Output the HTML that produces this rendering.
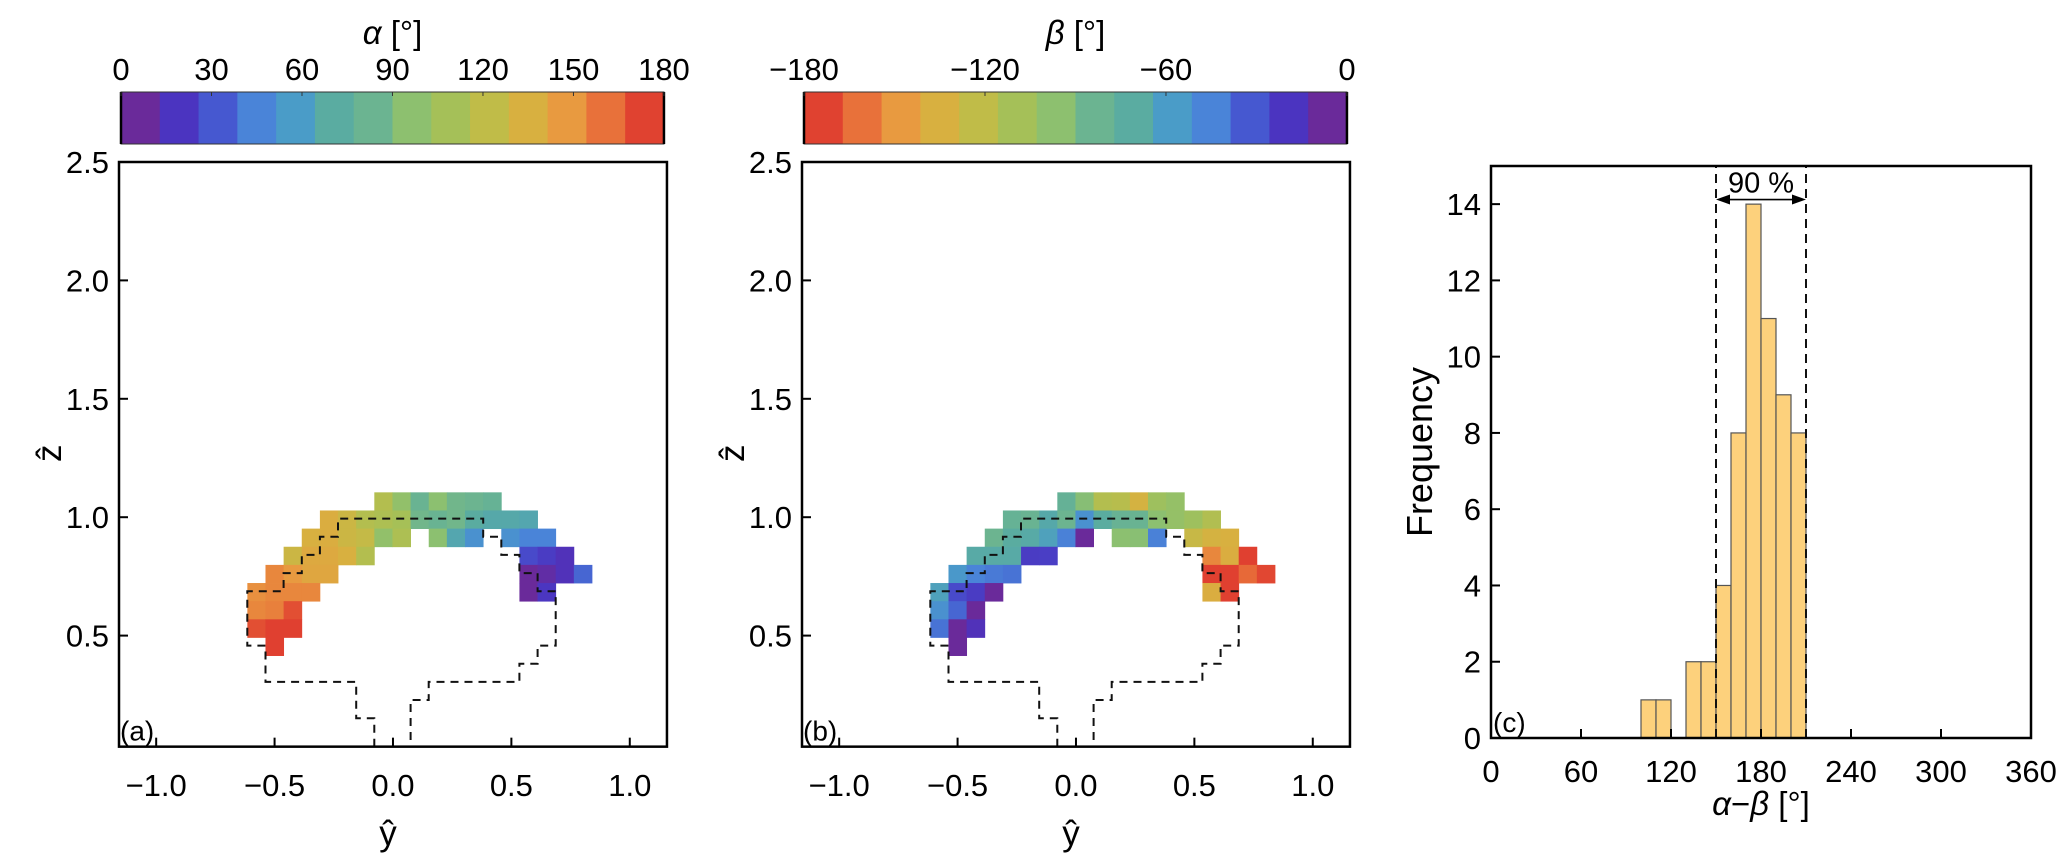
<!DOCTYPE html>
<html><head><meta charset="utf-8">
<style>
html,body{margin:0;padding:0;background:#fff;}
svg{display:block;font-family:"Liberation Sans",sans-serif;}
</style></head>
<body>
<svg id="fig" width="2067" height="859" viewBox="0 0 2067 859" xmlns="http://www.w3.org/2000/svg">
<g id="pa"></g>
<g id="pb"></g>
<g id="pc"></g>
</svg>
<script>
// ---------- data ----------
const cellSize = 0.0766;
const gridOriginY = -0.615;
const gridOriginZ = 1.105;
const alphaCells = [
[7,0,116],[8,0,99],[9,0,82],[10,0,96],[11,0,86],[12,0,84],[13,0,80],
[4,1,137],[5,1,128],[6,1,116],[7,1,113],[8,1,110],[9,1,86],[10,1,82],[11,1,86],[12,1,71],[13,1,68],[14,1,68],[15,1,66],
[3,2,135],[4,2,137],[5,2,128],[6,2,124],[7,2,99],[8,2,113],[10,2,96],[11,2,66],[12,2,52],[14,2,52],[15,2,45],[16,2,45],
[2,3,128],[3,3,139],[4,3,139],[5,3,135],[6,3,116],[15,3,27],[16,3,22],[17,3,17],
[1,4,154],[2,4,148],[3,4,141],[4,4,141],[15,4,3],[16,4,10],[17,4,17],[18,4,36],
[0,5,151],[1,5,154],[2,5,154],[3,5,154],[15,5,3],[16,5,20],
[0,6,154],[1,6,156],[2,6,170],
[0,7,170],[1,7,174],[2,7,178],
[1,8,178]
];
const betaCells = [
[7,0,-79],[8,0,-94],[9,0,-116],[10,0,-118],[11,0,-133],[12,0,-106],[13,0,-101],
[4,1,-80],[5,1,-82],[6,1,-68],[7,1,-84],[8,1,-52],[9,1,-71],[10,1,-81],[11,1,-82],[12,1,-96],[13,1,-101],[14,1,-106],[15,1,-115],
[3,2,-84],[4,2,-71],[5,2,-69],[6,2,-62],[7,2,-44],[8,2,-4],[10,2,-96],[11,2,-95],[12,2,-44],[14,2,-126],[15,2,-133],[16,2,-135],
[2,3,-69],[3,3,-69],[4,3,-69],[5,3,-22],[6,3,-23],[15,3,-154],[16,3,-137],[17,3,-174],
[1,4,-56],[2,4,-45],[3,4,-42],[4,4,-40],[15,4,-178],[16,4,-174],[17,4,-163],[18,4,-172],
[0,5,-62],[1,5,-27],[2,5,-22],[3,5,-3],[15,5,-137],[16,5,-174],
[0,6,-52],[1,6,-36],[2,6,-3],
[0,7,-40],[1,7,-3],[2,7,-17],
[1,8,-3]
];
const outlineCols = [7,7,6,6,1,1,0,0,2,2,3,3,4,4,5,5,13,13,14,14,15,15,16,16,17,17,16,16,15,15,10,10,9,9];
const outlineRows = [99,12.45,12.45,10.45,10.45,8.45,8.45,5.45,5.45,4.45,4.45,3.45,3.45,2.45,2.45,1.45,1.45,2.45,2.45,3.45,3.45,4.45,4.45,5.45,5.45,8.45,8.45,9.45,9.45,10.45,10.45,11.45,11.45,99];
const xTicks = [-1.0,-0.5,0.0,0.5,1.0];
const xTickLabels = ["\u22121.0","\u22120.5","0.0","0.5","1.0"];
const zTicks = [0.5,1.0,1.5,2.0,2.5];
const zTickLabels = ["0.5","1.0","1.5","2.0","2.5"];
const alphaBarTicks = [0,30,60,90,120,150,180];
const betaBarTicks = [-180,-120,-60,0];
const betaBarLabels = ["\u2212180","\u2212120","\u221260","0"];
const binStarts = [100,110,130,140,150,160,170,180,190,200];
const binCounts = [1,1,2,2,4,8,14,11,9,8];
const binWidth = 10;
const pctLow = 150, pctHigh = 210;
const histXTicks = [0,60,120,180,240,300,360];
const histYTicks = [0,2,4,6,8,10,12,14];
const cmapPos = [0,6.4,19.3,32,45,58,71,84,96,109,122,135,148,161,174,180];
const cmapCol = ["#6a2a9a","#6a2a9a","#4b34c0","#4658d0","#4a84d8","#4a9cc8","#5aaca0","#6cb490","#8cc070","#a4c058","#c0bc48","#d8b040","#e89a40","#e8703a","#e04030","#e04030"];

// ---------- helpers ----------
const NS="http://www.w3.org/2000/svg";
function mk(parent,tag,attrs){const e=document.createElementNS(NS,tag);for(const k in attrs)e.setAttribute(k,attrs[k]);parent.appendChild(e);return e;}
function hex(c){return [parseInt(c.slice(1,3),16),parseInt(c.slice(3,5),16),parseInt(c.slice(5,7),16)];}
function cmap(t){t=Math.max(0,Math.min(180,t));for(let i=0;i<cmapPos.length-1;i++){if(t<=cmapPos[i+1]){const f=(t-cmapPos[i])/(cmapPos[i+1]-cmapPos[i]||1);const a=hex(cmapCol[i]),b=hex(cmapCol[i+1]);return "rgb("+a.map((v,j)=>Math.round(v+(b[j]-v)*f)).join(",")+")";}}return cmapCol[cmapCol.length-1];}

const K=236.8, YMIN=0.031, YMAX=2.5, XLIM=1.157;
function drawMap(gid,left,cells,colorOf,label,isBeta){
  const g=document.getElementById(gid);
  const X=v=>left+(v+XLIM)*K, Y=v=>162+(YMAX-v)*K;
  const right=X(XLIM), bottom=Y(YMIN), top=162;
  const cb=mk(g,'g',{});
  
  
  const nb=14, cbL=left+2, cbR=right-3, cbT=92, cbB=144;
  for(let i=0;i<nb;i++){
    const tt=(i+0.5)*180/nb;
    const c=isBeta?cmap(180-tt):cmap(tt);
    const r=mk(cb,'rect',{x:cbL+i*(cbR-cbL)/nb,y:cbT,width:(cbR-cbL)/nb+0.6,height:cbB-cbT,fill:c});
    
    
  }
  mk(cb,'rect',{x:cbL,y:cbT,width:cbR-cbL,height:cbB-cbT,fill:'none',stroke:'#333','stroke-width':1});
  mk(cb,'line',{x1:cbL,y1:cbT,x2:cbL,y2:cbB,stroke:'#000','stroke-width':2.5});
  mk(cb,'line',{x1:cbR,y1:cbT,x2:cbR,y2:cbB,stroke:'#000','stroke-width':2.5});
  const tks=isBeta?betaBarTicks:alphaBarTicks;
  tks.forEach((v,i)=>{
    const f=isBeta?(v+180)/180:v/180;
    const x=cbL+f*(cbR-cbL);
    mk(cb,'line',{x1:x,y1:cbT,x2:x,y2:cbT+4,stroke:'#333','stroke-width':1});
    const t=mk(cb,'text',{x:x,y:80,'font-size':31,'text-anchor':'middle'});
    t.textContent=isBeta?betaBarLabels[i]:String(v);
    
    
  });
  const ttl=mk(cb,'text',{x:(cbL+cbR)/2,y:44,'font-size':33,'text-anchor':'middle'});
  ttl.innerHTML='<tspan font-style="italic">'+(isBeta?'β':'α')+'</tspan> [°]';
  
  
  cells.forEach(c=>{
    const y0=gridOriginY+c[0]*cellSize, z0=gridOriginZ-c[1]*cellSize;
    const r=mk(g,'rect',{x:X(y0),y:Y(z0),width:X(y0+cellSize)-X(y0)+0.4,height:Y(z0-cellSize)-Y(z0)+0.4,fill:colorOf(c[2])});
    
    
  });
  let d='';
  outlineCols.forEach((c,i)=>{
    const yv=gridOriginY+c*cellSize;
    let zv=gridOriginZ-outlineRows[i]*cellSize; if(zv<YMIN) zv=YMIN;
    d+=(i?'L':'M')+X(yv).toFixed(1)+' '+Y(zv).toFixed(1);
  });
  const p=mk(g,'path',{d:d,fill:'none',stroke:'#111','stroke-width':2,'stroke-dasharray':'8,6'});
  
  
  const bx=mk(g,'rect',{x:left,y:top,width:right-left,height:bottom-top,fill:'none',stroke:'#000','stroke-width':2.5});
  
  
  xTicks.forEach((v,i)=>{
    mk(g,'line',{x1:X(v),y1:bottom,x2:X(v),y2:bottom-9,stroke:'#000','stroke-width':2});
    const t=mk(g,'text',{x:X(v),y:796,'font-size':31,'text-anchor':'middle'});
    t.textContent=xTickLabels[i];
    
    
  });
  zTicks.forEach((v,i)=>{
    mk(g,'line',{x1:left,y1:Y(v),x2:left+9,y2:Y(v),stroke:'#000','stroke-width':2});
    const t=mk(g,'text',{x:left-10,y:Y(v)+11,'font-size':31,'text-anchor':'end'});
    t.textContent=zTickLabels[i];
    
    
  });
  const xl=mk(g,'text',{x:X(0)-5,y:845,'font-size':35,'text-anchor':'middle'});
  xl.textContent='ŷ';
  
  
  const zl=mk(g,'text',{x:0,y:0,'font-size':35,'text-anchor':'middle',transform:'translate('+(left-58)+','+Y(1.27)+') rotate(-90)'});
  zl.textContent='ẑ';
  
  
  const pl=mk(g,'text',{x:left+1,y:bottom-6,'font-size':28});
  pl.textContent=label;
  
  
}
drawMap('pa',119,alphaCells,v=>cmap(v),'(a)',false);
drawMap('pb',802,betaCells,v=>cmap(-v),'(b)',true);

(function(){
  const g=document.getElementById('pc');
  const L=1491,R=2031,T=166,B=738;
  const X=v=>L+v/360*(R-L), Y=v=>B-v/15*(B-T);
  binStarts.forEach((s,i)=>{
    const r=mk(g,'rect',{x:X(s),y:Y(binCounts[i]),width:X(s+binWidth)-X(s),height:Y(0)-Y(binCounts[i]),fill:'#fdd17c',stroke:'#555','stroke-width':1.2});
    
    
  });
  [pctLow,pctHigh].forEach(v=>{
    const l=mk(g,'line',{x1:X(v),y1:Y(0),x2:X(v),y2:Y(15),stroke:'#111','stroke-width':2,'stroke-dasharray':'9,6'});
    
    
  });
  const ay=Y(14.12), ax1=X(pctLow), ax2=X(pctHigh);
  const ar=mk(g,'g',{});
  
  
  mk(ar,'line',{x1:ax1+10,y1:ay,x2:ax2-10,y2:ay,stroke:'#000','stroke-width':1.6});
  mk(ar,'polygon',{points:ax1+','+ay+' '+(ax1+14)+','+(ay-5)+' '+(ax1+14)+','+(ay+5),fill:'#000'});
  mk(ar,'polygon',{points:ax2+','+ay+' '+(ax2-14)+','+(ay-5)+' '+(ax2-14)+','+(ay+5),fill:'#000'});
  const pt=mk(g,'text',{x:X((pctLow+pctHigh)/2),y:Y(14.3),'font-size':29,'text-anchor':'middle'});
  pt.textContent='90 %';
  
  
  const bx=mk(g,'rect',{x:L,y:T,width:R-L,height:B-T,fill:'none',stroke:'#000','stroke-width':2.5});
  
  
  histXTicks.forEach(v=>{
    mk(g,'line',{x1:X(v),y1:B,x2:X(v),y2:B-9,stroke:'#000','stroke-width':2});
    const t=mk(g,'text',{x:X(v),y:782,'font-size':31,'text-anchor':'middle'});
    t.textContent=String(v);
    
    
  });
  histYTicks.forEach(v=>{
    mk(g,'line',{x1:L,y1:Y(v),x2:L+9,y2:Y(v),stroke:'#000','stroke-width':2});
    const t=mk(g,'text',{x:L-10,y:Y(v)+11,'font-size':31,'text-anchor':'end'});
    t.textContent=String(v);
    
    
  });
  const xl=mk(g,'text',{x:(L+R)/2,y:815,'font-size':33,'text-anchor':'middle'});
  xl.innerHTML='<tspan font-style="italic">α</tspan>−<tspan font-style="italic">β</tspan> [°]';
  
  
  const yl=mk(g,'text',{x:0,y:0,'font-size':36,'text-anchor':'middle',transform:'translate(1432,'+((T+B)/2)+') rotate(-90)'});
  yl.textContent='Frequency';
  
  
  const pl=mk(g,'text',{x:L+2,y:B-6,'font-size':28});
  pl.textContent='(c)';
  
  
})();
</script>
</body></html>
